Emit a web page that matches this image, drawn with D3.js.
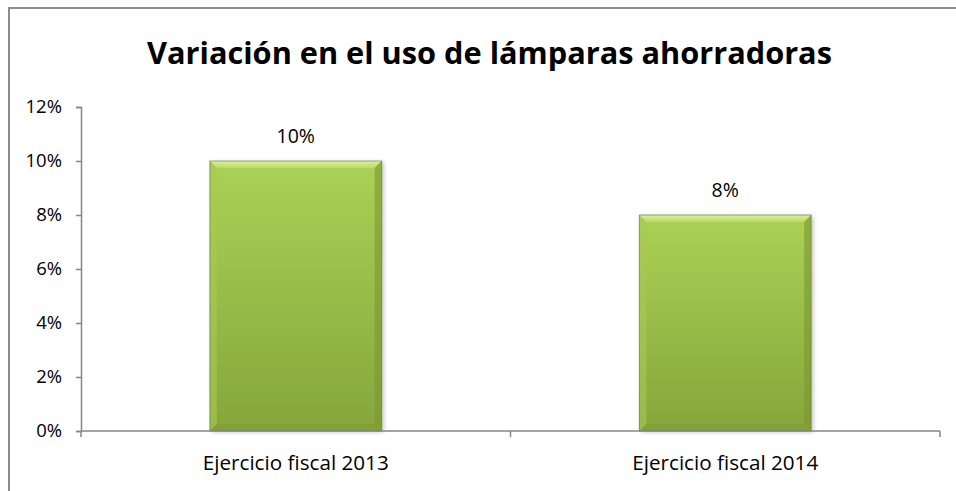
<!DOCTYPE html>
<html>
<head>
<meta charset="utf-8">
<script src="https://cdn.jsdelivr.net/npm/d3@7"></script>
<style>
  html, body { margin: 0; padding: 0; background: #fff; }
  svg { display: block; font-family: "Open Sans", sans-serif; }
</style>
</head>
<body>
<div id="chart"></div>
<script>
const categories = ["Ejercicio fiscal 2013", "Ejercicio fiscal 2014"];
const values = [0.10, 0.08];
const yTicks = [0, 0.02, 0.04, 0.06, 0.08, 0.10, 0.12];
const chartTitle = "Variación en el uso de lámparas ahorradoras";

const width = 956, height = 491;
const margin = { top: 107, left: 81, bottom: 60, right: 16 };

const svg = d3.select("#chart").append("svg")
    .attr("width", width)
    .attr("height", height);

// fits a text element's font-size so it spans the given width
function fitWidth(sel, target) {
    const node = sel.node();
    const fs = parseFloat(sel.attr("font-size"));
    const w = node.getComputedTextLength();
    sel.attr("font-size", (fs * target / w).toFixed(2));
}

const defs = svg.append("defs");
const grad = defs.append("linearGradient").attr("id", "barFill")
    .attr("x1", 0).attr("y1", 0).attr("x2", 0).attr("y2", 1);
grad.append("stop").attr("offset", "0%").attr("stop-color", "#abd156");
grad.append("stop").attr("offset", "100%").attr("stop-color", "#86a63b");

const topGrad = defs.append("linearGradient").attr("id", "topBevel")
    .attr("x1", 0).attr("y1", 0).attr("x2", 0).attr("y2", 1);
topGrad.append("stop").attr("offset", "0%").attr("stop-color", "#e2f2a6");
topGrad.append("stop").attr("offset", "100%").attr("stop-color", "#b9dc66");

const shadow = defs.append("filter").attr("id", "shadow")
    .attr("x", "-10%").attr("y", "-10%").attr("width", "130%").attr("height", "130%");
shadow.append("feDropShadow").attr("dx", 2).attr("dy", 1).attr("stdDeviation", 2)
    .attr("flood-color", "#000").attr("flood-opacity", 0.25);

// chart frame
svg.append("rect")
    .attr("x", 9).attr("y", 8)
    .attr("width", width + 20).attr("height", height + 20)
    .attr("fill", "none").attr("stroke", "#8c8c8c").attr("stroke-width", 2);

const x = d3.scaleBand()
    .domain(categories)
    .range([margin.left, width - margin.right])
    .paddingInner(0.6).paddingOuter(0.3);

const y = d3.scaleLinear()
    .domain([0, 0.12])
    .range([height - margin.bottom, margin.top]);

// title
const title = svg.append("text")
    .attr("x", 489.5).attr("y", 64)
    .attr("text-anchor", "middle")
    .attr("font-weight", "bold")
    .attr("font-size", 32)
    .attr("fill", "#000")
    .text(chartTitle);
fitWidth(title, 685);

// y axis
const yAxis = svg.append("g")
    .attr("transform", `translate(${margin.left},0)`)
    .call(d3.axisLeft(y).tickValues(yTicks).tickFormat(d3.format(".0%")).tickSize(5).tickPadding(14));
yAxis.select(".domain").attr("stroke", "#868686").attr("stroke-width", 1.5);
yAxis.selectAll(".tick line").attr("stroke", "#868686").attr("stroke-width", 1.5);
yAxis.selectAll(".tick text")
    .attr("font-size", 18.5).attr("fill", "#000")
    .attr("font-family", "Open Sans, sans-serif");

// bars
const bars = svg.append("g").selectAll("g.bar")
    .data(values)
    .join("g").attr("class", "bar");

const bev = 7;
bars.append("rect")
    .attr("x", (d, i) => x(categories[i]))
    .attr("y", d => y(d))
    .attr("width", x.bandwidth())
    .attr("height", d => y(0) - y(d))
    .attr("fill", "url(#barFill)")
    .attr("filter", "url(#shadow)");

function bevel(d, i, side) {
    const x0 = x(categories[i]), x1 = x0 + x.bandwidth();
    const y0 = y(d), y1 = y(0);
    if (side === "top") return [[x0, y0], [x1, y0], [x1 - bev, y0 + bev], [x0 + bev, y0 + bev]];
    if (side === "left") return [[x0, y0], [x0 + bev, y0 + bev], [x0 + bev, y1 - bev], [x0, y1]];
    if (side === "right") return [[x1, y0], [x1, y1], [x1 - bev, y1 - bev], [x1 - bev, y0 + bev]];
    return [[x0, y1], [x0 + bev, y1 - bev], [x1 - bev, y1 - bev], [x1, y1]];
}
const bevelColors = { top: "url(#topBevel)", left: "#a6c952", right: "#7a9832", bottom: "#7d9b34" };
Object.keys(bevelColors).forEach(side => {
    bars.append("polygon")
        .attr("points", (d, i) => bevel(d, i, side).map(p => p.join(",")).join(" "))
        .attr("fill", bevelColors[side])
        .attr("opacity", side === "top" ? 0.9 : 0.6);
});
bars.append("rect")
    .attr("x", (d, i) => x(categories[i]))
    .attr("y", d => y(d))
    .attr("width", x.bandwidth())
    .attr("height", d => y(0) - y(d))
    .attr("fill", "none")
    .attr("stroke", "#5f7a22").attr("stroke-width", 1).attr("stroke-opacity", 0.6);

// value labels
svg.append("g").selectAll("text")
    .data(values)
    .join("text")
    .attr("x", (d, i) => x(categories[i]) + x.bandwidth() / 2)
    .attr("y", d => y(d) - 18)
    .attr("text-anchor", "middle")
    .attr("font-size", 19.5)
    .attr("fill", "#000")
    .text(d => d3.format(".0%")(d));

// x axis
const xAxisG = svg.append("g").attr("transform", `translate(0,${y(0)})`);
xAxisG.append("line")
    .attr("x1", margin.left).attr("x2", width - margin.right)
    .attr("stroke", "#868686").attr("stroke-width", 1.5);
const xEdges = [margin.left, (margin.left + width - margin.right) / 2, width - margin.right];
xAxisG.selectAll("line.tick")
    .data(xEdges)
    .join("line").attr("class", "tick")
    .attr("x1", d => d).attr("x2", d => d)
    .attr("y1", 0).attr("y2", 6)
    .attr("stroke", "#868686").attr("stroke-width", 1.5);
xAxisG.selectAll("text")
    .data(categories)
    .join("text")
    .attr("x", d => x(d) + x.bandwidth() / 2)
    .attr("y", 39)
    .attr("text-anchor", "middle")
    .attr("font-size", 20)
    .attr("fill", "#000")
    .text(d => d)
    .each(function () { fitWidth(d3.select(this), 186); });
</script>
</body>
</html>
